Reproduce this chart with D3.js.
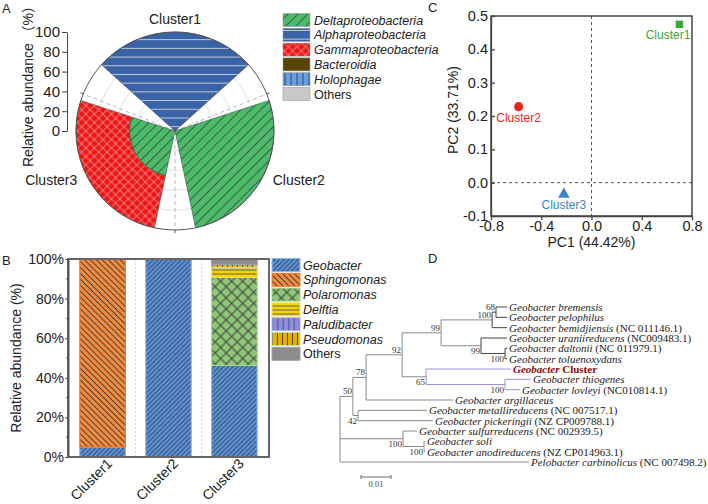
<!DOCTYPE html>
<html><head><meta charset="utf-8">
<script src="https://cdn.jsdelivr.net/npm/d3@7"></script>
<style>
body{margin:0;background:#fff;}
svg{display:block;font-family:"Liberation Sans",Arial,sans-serif;}
</style></head><body>
<svg id="c" width="708" height="504"></svg>
<script>
// ---------- Panel A data (polar stacked bars) ----------
const roseClusters = ["Cluster1", "Cluster2", "Cluster3"];
const classNames = ["Deltaproteobacteria", "Alphaproteobacteria", "Gammaproteobacteria", "Bacteroidia", "Holophagae", "Others"];
const deltaValues = [0, 100, 46];
const alphaValues = [100, 0, 0];
const gammaValues = [0, 0, 54];
const bacteroidiaValues = [0, 0, 0];
const holophagaeValues = [0, 0, 0];
const otherClassValues = [0, 0, 0];
const radialTicks = [0, 20, 40, 60, 80, 100];

// ---------- Panel B data (stacked bars) ----------
const barClusters = ["Cluster1", "Cluster2", "Cluster3"];
const genusNames = ["Geobacter", "Sphingomonas", "Polaromonas", "Delftia", "Paludibacter", "Pseudomonas", "Others"];
const geobacterValues = [5, 100, 46.3];
const sphingomonasValues = [95, 0, 0];
const polaromonasValues = [0, 0, 44.5];
const delftiaValues = [0, 0, 4.7];
const paludibacterValues = [0, 0, 0.3];
const pseudomonasValues = [0, 0, 1.5];
const otherGenusValues = [0, 0, 2.7];
const percentTicks = [0, 20, 40, 60, 80, 100];

// ---------- Panel C data (PCA) ----------
const pcaLabels = ["Cluster1", "Cluster2", "Cluster3"];
const pc1Values = [0.70, -0.58, -0.22];
const pc2Values = [0.475, 0.228, -0.035];
const pc1Ticks = [-0.8, -0.4, 0, 0.4, 0.8];
const pc2Ticks = [-0.1, 0, 0.1, 0.2, 0.3, 0.4, 0.5];

// ---------- Panel D data (phylogenetic tree) ----------
const treeIds = ["root", "N50", "N78", "N92", "N99a", "N100a", "N68",
  "Geobacter bremensis", "Geobacter pelophilus", "Geobacter bemidjiensis",
  "N99b", "Geobacter uraniireducens", "N100b", "Geobacter daltonii", "Geobacter toluenoxydans",
  "N65", "Geobacter Cluster", "N100c", "Geobacter thiogenes", "Geobacter lovleyi",
  "Geobacter argillaceus", "N42", "Geobacter metallireducens", "Geobacter pickeringii",
  "N100d", "Geobacter sulfurreducens", "N100e", "Geobacter soli", "Geobacter anodireducens",
  "Pelobacter carbinolicus"];
const treeParents = ["", "root", "N50", "N78", "N92", "N99a", "N100a",
  "N68", "N68", "N100a",
  "N99a", "N99b", "N99b", "N100b", "N100b",
  "N92", "N65", "N65", "N100c", "N100c",
  "N78", "N50", "N42", "N42",
  "root", "N100d", "N100d", "N100e", "N100e",
  "root"];
const treeLengths = [0, 0.0043, 0.0044, 0.0120, 0.0130, 0.0170, 0.0013,
  0.0037, 0.0037, 0.0050,
  0.0133, 0.0087, 0.0080, 0.0007, 0.0007,
  0.0080, 0.0283, 0.0263, 0.0087, 0.0050,
  0.0290, 0.0017, 0.0230, 0.0250,
  0.0210, 0.0047, 0.0070, 0.0003, 0.0003,
  0.0630];
const treeSupports = ["", "50", "78", "92", "99", "100", "68",
  "", "", "",
  "99", "", "100", "", "",
  "65", "", "100", "", "",
  "", "42", "", "",
  "100", "", "100", "", "",
  ""];
const accessionLeaves = ["Geobacter bemidjiensis", "Geobacter uraniireducens", "Geobacter daltonii", "Geobacter lovleyi",
  "Geobacter metallireducens", "Geobacter pickeringii", "Geobacter sulfurreducens", "Geobacter anodireducens", "Pelobacter carbinolicus"];
const accessionCodes = ["(NC 011146.1)", "(NC009483.1)", "(NC 011979.1)", "(NC010814.1)",
  "(NC 007517.1)", "(NZ CP009788.1)", "(NC 002939.5)", "(NZ CP014963.1)", "(NC 007498.2)"];
const scaleBarValue = 0.01;

// =====================================================
const svg = d3.select("#c");
const defs = svg.append("defs");
function pattern(id, bg, size, angle, color, width, cross) {
  const p = defs.append("pattern").attr("id", id).attr("patternUnits", "userSpaceOnUse")
    .attr("width", size).attr("height", size).attr("patternTransform", `rotate(${angle})`);
  p.append("rect").attr("width", size).attr("height", size).attr("fill", bg);
  p.append("line").attr("x1", 0).attr("x2", size).attr("y1", size / 2).attr("y2", size / 2)
    .attr("stroke", color).attr("stroke-width", width);
  if (cross) p.append("line").attr("y1", 0).attr("y2", size).attr("x1", size / 2).attr("x2", size / 2)
    .attr("stroke", color).attr("stroke-width", width);
  return `url(#${id})`;
}
const classFills = [
  pattern("pDelta", "#4dba6a", 7, -45, "#2f4a36", 0.8),
  pattern("pAlpha", "#3a62a6", 8.7, 0, "#c3cadb", 1),
  pattern("pGamma", "#ee1414", 6, 45, "#f2a8a8", 0.7, true),
  pattern("pBact", "#5c4905", 3, 0, "#4a3a00", 0.7),
  pattern("pHolo", "#6a9edb", 6, 90, "#2a4a80", 1),
  "#c9c9c9"
];
const genusFills = [
  pattern("pGeo", "#5e95d8", 3.3, -45, "#2e3e5e", 0.9),
  pattern("pSph", "#f28b3f", 4.2, 45, "#3a3a3a", 0.9),
  pattern("pPol", "#8ec877", 7.8, 45, "#444", 1.1, true),
  pattern("pDel", "#f7d300", 4, 0, "#555", 0.9),
  pattern("pPal", "#8e8edd", 5.5, 90, "#4a4a8a", 1),
  pattern("pPse", "#e5ae00", 5, 90, "#5a4a00", 1),
  "#8c8c8c"
];
const genusBorders = ["#8db8ec", "#f47a20", "#a9d98f", "#f5e060", "#b4b4ec", "#bfe0b0", "#a0a0a0"];

function panelLabel(t, x, y) {
  svg.append("text").attr("x", x).attr("y", y).attr("font-size", 13).attr("fill", "#222").text(t);
}
panelLabel("A", 2, 13); panelLabel("B", 2, 265); panelLabel("C", 428, 12); panelLabel("D", 428, 263);

// ================= Panel A =================
(function () {
  const cx = 175, cy = 131, R = 99;
  const classValues = [deltaValues, alphaValues, gammaValues, bacteroidiaValues, holophagaeValues, otherClassValues];
  const rows = roseClusters.map((c, i) => { const o = { cluster: c }; classNames.forEach((k, j) => o[k] = classValues[j][i]); return o; });
  const series = d3.stack().keys(classNames)(rows);
  const ang = d3.scaleBand().domain(roseClusters).range([-Math.PI / 3, 5 * Math.PI / 3]).paddingInner(0.2).paddingOuter(0.1);
  const rad = d3.scaleLinear().domain([0, 100]).range([0, R]);
  const g = svg.append("g").attr("transform", `translate(${cx},${cy})`);
  g.selectAll(".ring").data(radialTicks.filter(t => t > 0 && t < 100)).join("circle")
    .attr("r", d => rad(d)).attr("fill", "none").attr("stroke", "#d9d9d9").attr("stroke-width", 0.8);
  const spokeDeg = [-68, 68, 180];
  g.selectAll(".spoke").data(spokeDeg).join("line")
    .attr("x1", 0).attr("y1", 0)
    .attr("x2", d => R * Math.sin(d * Math.PI / 180)).attr("y2", d => -R * Math.cos(d * Math.PI / 180))
    .attr("stroke", "#b0b0b0").attr("stroke-dasharray", "4,3").attr("stroke-width", 0.9);
  const arc = d3.arc();
  series.forEach((s, j) => {
    g.selectAll(null).data(s.filter(d => d[1] > d[0])).join("path")
      .attr("d", d => arc({ innerRadius: rad(d[0]), outerRadius: rad(d[1]), startAngle: ang(d.data.cluster), endAngle: ang(d.data.cluster) + ang.bandwidth() }))
      .attr("fill", classFills[j]).attr("stroke", "#3a3a3a").attr("stroke-width", 0.5);
  });
  g.append("circle").attr("r", R).attr("fill", "none").attr("stroke", "#555").attr("stroke-width", 1);
  g.selectAll(".stick").data(spokeDeg).join("line")
    .attr("x1", d => R * Math.sin(d * Math.PI / 180)).attr("y1", d => -R * Math.cos(d * Math.PI / 180))
    .attr("x2", d => (R + 3) * Math.sin(d * Math.PI / 180)).attr("y2", d => -(R + 3) * Math.cos(d * Math.PI / 180))
    .attr("stroke", "#555");
  roseClusters.forEach(c => {
    const a = ang(c) + ang.bandwidth() / 2;
    const sx = Math.sin(a), sy = -Math.cos(a);
    let x, y, anchor;
    if (Math.abs(sx) < 0.1) { x = 0; y = -R - 8; anchor = "middle"; }
    else { x = sx * R + (sx > 0 ? 12 : -12); y = sy * R + 4; anchor = sx > 0 ? "start" : "end"; }
    g.append("text").attr("x", x).attr("y", y).attr("text-anchor", anchor).attr("font-size", 14).attr("fill", "#222").text(c);
  });
  const ry = d3.scaleLinear().domain([0, 100]).range([cy, cy - R]);
  const ax = svg.append("g").attr("transform", "translate(67,0)")
    .call(d3.axisLeft(ry).tickValues(radialTicks).tickSize(5).tickPadding(2).tickSizeOuter(0));
  ax.selectAll("text").attr("font-size", 15).attr("font-family", "Liberation Sans, Arial").attr("fill", "#222");
  ax.selectAll("line,path").attr("stroke", "#444");
  svg.append("text").attr("transform", `translate(33,${cy - 48}) rotate(-90)`).attr("text-anchor", "middle")
    .attr("font-size", 14).attr("fill", "#222")
    .style("font-family", "'Liberation Sans','Noto Sans CJK SC',sans-serif").text("Relative abundance （%）");
  const lg = svg.append("g");
  classNames.forEach((k, j) => {
    const y = 20 + j * 14.8;
    lg.append("rect").attr("x", 283).attr("y", y - 6.5).attr("width", 27).attr("height", 13)
      .attr("fill", classFills[j]).attr("stroke", "#9a9a9a").attr("stroke-width", 0.6);
    lg.append("text").attr("x", 314).attr("y", y + 4.5).attr("font-size", 12.5)
      .attr("font-style", k === "Others" ? "normal" : "italic").attr("fill", "#222").text(k);
  });
})();

// ================= Panel B =================
(function () {
  const x0 = 68, x1 = 269, yb = 457, yt = 259;
  const genusValues = [geobacterValues, sphingomonasValues, polaromonasValues, delftiaValues, paludibacterValues, pseudomonasValues, otherGenusValues];
  const rows = barClusters.map((c, i) => { const o = { cluster: c }; genusNames.forEach((k, j) => o[k] = genusValues[j][i]); return o; });
  const series = d3.stack().keys(genusNames)(rows);
  const x = d3.scaleBand().domain(barClusters).range([x0, x1]).paddingInner(0.29).paddingOuter(0.17);
  const y = d3.scaleLinear().domain([0, 100]).range([yb, yt]);
  const mids = barClusters.slice(1).map(c => x(c) - x.step() * x.paddingInner() / 2);
  svg.selectAll(".sep").data(mids).join("line").attr("x1", d => d).attr("x2", d => d)
    .attr("y1", yt).attr("y2", yb).attr("stroke", "#d6d6d6").attr("stroke-dasharray", "2,2");
  series.forEach((s, j) => {
    svg.selectAll(null).data(s.filter(d => d[1] > d[0])).join("rect")
      .attr("x", d => x(d.data.cluster) + 0.6).attr("width", x.bandwidth() - 1.2)
      .attr("y", d => y(d[1])).attr("height", d => y(d[0]) - y(d[1]))
      .attr("fill", genusFills[j]).attr("stroke", genusBorders[j]).attr("stroke-width", 1.2);
  });
  svg.append("rect").attr("x", x0).attr("y", yt).attr("width", x1 - x0).attr("height", yb - yt)
    .attr("fill", "none").attr("stroke", "#666").attr("stroke-width", 2);
  const ax = svg.append("g").attr("transform", `translate(${x0},0)`)
    .call(d3.axisLeft(y).tickValues(percentTicks).tickFormat(d => d + "%").tickSize(3).tickPadding(1).tickSizeOuter(0));
  ax.selectAll("text").attr("font-size", 14).attr("font-family", "Liberation Sans, Arial").attr("fill", "#222");
  ax.selectAll("line").attr("stroke", "#555");
  ax.select("path").attr("stroke", "#555").attr("stroke-width", 2);
  const minor = d3.range(10, 100, 20);
  svg.selectAll(".mt").data(minor).join("line").attr("x1", x0 - 2).attr("x2", x0).attr("y1", d => y(d)).attr("y2", d => y(d)).attr("stroke", "#555");
  svg.append("text").attr("transform", `translate(21,${(yb + yt) / 2}) rotate(-90)`).attr("text-anchor", "middle")
    .attr("font-size", 14).attr("fill", "#222").text("Relative abundance (%)");
  barClusters.forEach(c => {
    svg.append("text").attr("transform", `translate(${x(c) + x.bandwidth() / 2 + 7},${yb + 4}) rotate(-45)`)
      .attr("text-anchor", "end").attr("dy", "0.35em").attr("font-size", 14).attr("fill", "#222").text(c);
  });
  genusNames.forEach((k, j) => {
    const yy = 265 + j * 14.8;
    svg.append("rect").attr("x", 272).attr("y", yy - 6.5).attr("width", 28).attr("height", 13)
      .attr("fill", genusFills[j]).attr("stroke", genusBorders[j]).attr("stroke-width", 1);
    svg.append("text").attr("x", 303).attr("y", yy + 4.5).attr("font-size", 12.5)
      .attr("font-style", k === "Others" ? "normal" : "italic").attr("fill", "#222").text(k);
  });
})();

// ================= Panel C =================
(function () {
  const L = 491, Rr = 692, T = 16, B = 216;
  const x = d3.scaleLinear().domain([-0.8, 0.8]).range([L, Rr]);
  const y = d3.scaleLinear().domain([-0.1, 0.5]).range([B, T]);
  const colors = ["#3aa935", "#e8261c", "#3a86c8"];
  svg.append("line").attr("x1", x(0)).attr("x2", x(0)).attr("y1", T).attr("y2", B).attr("stroke", "#555").attr("stroke-dasharray", "3,3");
  svg.append("line").attr("x1", L).attr("x2", Rr).attr("y1", y(0)).attr("y2", y(0)).attr("stroke", "#555").attr("stroke-dasharray", "3,3");
  svg.append("rect").attr("x", L).attr("y", T).attr("width", Rr - L).attr("height", B - T).attr("fill", "none").attr("stroke", "#444").attr("stroke-width", 1.5);
  const fmt = d => d.toFixed(1);
  const ax = svg.append("g").attr("transform", `translate(0,${B})`).call(d3.axisBottom(x).tickValues(pc1Ticks).tickFormat(fmt).tickSize(4).tickPadding(1).tickSizeOuter(0));
  const ay = svg.append("g").attr("transform", `translate(${L},0)`).call(d3.axisLeft(y).tickValues(pc2Ticks).tickFormat(fmt).tickSize(-4).tickPadding(3).tickSizeOuter(0));
  [ax, ay].forEach(a => {
    a.selectAll("text").attr("font-size", 14.5).attr("font-family", "Liberation Sans, Arial").attr("fill", "#222");
    a.selectAll("line,path").attr("stroke", "#444").attr("stroke-width", 1.3);
  });
  svg.append("text").attr("x", (L + Rr) / 2).attr("y", 247).attr("text-anchor", "middle").attr("font-size", 14).attr("fill", "#222").text("PC1 (44.42%)");
  svg.append("text").attr("transform", `translate(458,${(T + B) / 2 - 6}) rotate(-90)`).attr("text-anchor", "middle").attr("font-size", 14).attr("fill", "#222").text("PC2 (33.71%)");
  const symbols = [d3.symbolSquare, d3.symbolCircle, d3.symbolTriangle];
  const sizes = [55, 65, 60];
  pcaLabels.forEach((lab, i) => {
    const px = x(pc1Values[i]), py = y(pc2Values[i]);
    svg.append("path").attr("d", d3.symbol(symbols[i], sizes[i])()).attr("transform", `translate(${px},${py})`).attr("fill", colors[i]);
    svg.append("text").attr("x", Math.min(px, Rr - 24)).attr("y", py + 15).attr("text-anchor", "middle")
      .attr("font-size", 12).attr("fill", colors[i]).text(lab);
  });
})();

// ================= Panel D =================
(function () {
  const rows = treeIds.map((id, i) => ({ id, parentId: treeParents[i] || null, len: treeLengths[i], support: treeSupports[i] }));
  const root = d3.stratify().id(d => d.id).parentId(d => d.parentId)(rows);
  root.each(n => { n.dist = n.parent ? n.parent.dist + n.data.len : 0; });
  const leaves = root.leaves();
  const xT = d3.scaleLinear().domain([0, scaleBarValue]).range([340, 370]);
  const yT = d3.scaleLinear().domain([0, leaves.length - 1]).range([307, 462]);
  leaves.forEach((l, i) => l.y = yT(i));
  root.eachAfter(n => { if (n.children) n.y = (n.children[0].y + n.children[n.children.length - 1].y) / 2; });
  const byId = id => root.find(n => n.id === id);
  const purpleRoot = byId("N65"), darkRoots = [byId("N100a"), byId("N99b")];
  const purple = "#a08fd6", dark = "#444", grey = "#8a8a8a";
  const colorOf = n => {
    const anc = n.ancestors();
    if (anc.includes(purpleRoot) && n !== purpleRoot) return purple;
    if (darkRoots.some(d => anc.includes(d) && n !== d)) return dark;
    return grey;
  };
  const vColor = n => {
    if (n === purpleRoot || n.ancestors().includes(purpleRoot)) return purple;
    if (darkRoots.some(d => n.ancestors().includes(d))) return dark;
    return grey;
  };
  const g = svg.append("g");
  root.descendants().forEach(n => {
    if (n.parent) g.append("line").attr("x1", xT(n.parent.dist)).attr("x2", xT(n.dist)).attr("y1", n.y).attr("y2", n.y)
      .attr("stroke", colorOf(n)).attr("stroke-width", 1);
    if (n.children) g.append("line").attr("x1", xT(n.dist)).attr("x2", xT(n.dist))
      .attr("y1", n.children[0].y).attr("y2", n.children[n.children.length - 1].y)
      .attr("stroke", vColor(n)).attr("stroke-width", 1);
  });
  const below = new Set(["N99b", "N100b", "N65", "N100c", "N42", "N100d", "N100e"]);
  root.descendants().filter(n => n.data.support).forEach(n => {
    g.append("text").attr("x", xT(n.dist) - 1).attr("y", below.has(n.id) ? n.y + 8 : n.y - 2)
      .attr("text-anchor", "end").attr("font-size", 9).attr("font-family", "Liberation Serif, serif").attr("fill", "#333").text(n.data.support);
  });
  leaves.forEach(l => {
    const t = g.append("text").attr("x", xT(l.dist) + 2).attr("y", l.y).attr("dy", "0.35em")
      .attr("font-family", "Liberation Serif, serif").attr("font-size", 11).attr("fill", "#222");
    if (l.id === "Geobacter Cluster") {
      t.attr("fill", "#8b0a0a").attr("font-weight", "bold");
      t.append("tspan").attr("font-style", "italic").text("Geobacter");
      t.append("tspan").text(" Cluster");
    } else {
      t.append("tspan").attr("font-style", "italic").text(l.id);
      const k = accessionLeaves.indexOf(l.id);
      if (k >= 0) t.append("tspan").text(" " + accessionCodes[k]);
    }
  });
  const sx0 = 361;
  const sb = d3.scaleLinear().domain([0, scaleBarValue]).range([sx0, sx0 + (xT(scaleBarValue) - xT(0))]);
  g.append("line").attr("x1", sb(0)).attr("x2", sb(scaleBarValue)).attr("y1", 477).attr("y2", 477).attr("stroke", "#666");
  [0, scaleBarValue].forEach(v => g.append("line").attr("x1", sb(v)).attr("x2", sb(v)).attr("y1", 475).attr("y2", 479).attr("stroke", "#666"));
  g.append("text").attr("x", sb(scaleBarValue / 2)).attr("y", 487).attr("text-anchor", "middle").attr("font-size", 8.5)
    .attr("font-family", "Liberation Serif, serif").attr("fill", "#444").text(String(scaleBarValue));
})();
</script>
</body></html>
